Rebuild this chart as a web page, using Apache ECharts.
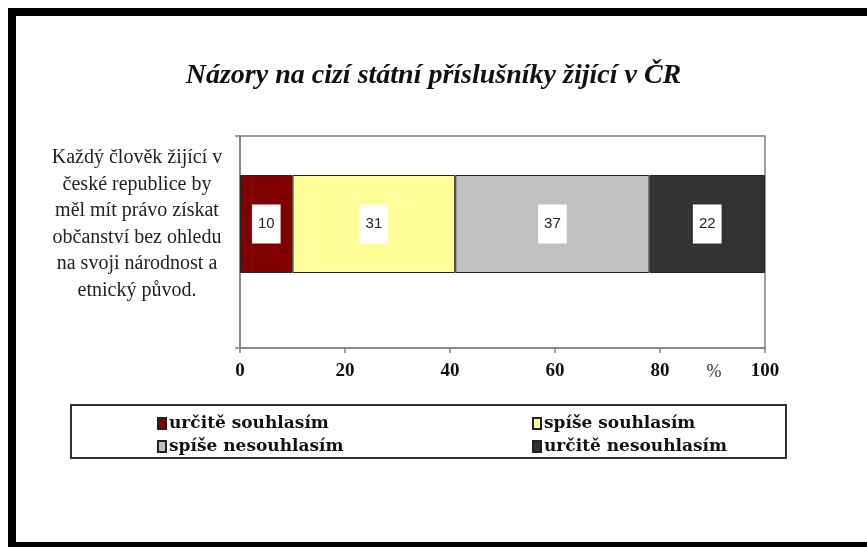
<!DOCTYPE html>
<html><head><meta charset="utf-8">
<script src="https://cdn.jsdelivr.net/npm/echarts@6/dist/echarts.min.js"></script>
<style>html,body{margin:0;padding:0;background:#fff}#c{width:867px;height:547px}</style>
</head><body><div id="c"></div>
<script>
const titleText = 'Názory na cizí státní příslušníky žijící v ČR';
const categories = ['Každý člověk žijící v\nčeské republice by\nměl mít právo získat\nobčanství bez ohledu\nna svoji národnost a\netnický původ.'];
const seriesNames = ['určitě souhlasím', 'spíše souhlasím', 'spíše nesouhlasím', 'určitě nesouhlasím'];
const seriesValues = [[10], [31], [37], [22]];
const seriesColors = ['#800000', '#FFFF99', '#C0C0C0', '#333333'];
const xTicks = [0, 20, 40, 60, 80, 100];

const serif = '"Liberation Serif", "Times New Roman", serif';
const wideSerif = '"DejaVu Serif", serif';
const chart = echarts.init(document.getElementById('c'));
chart.setOption({
  animation: false,
  backgroundColor: '#fff',
  title: {
    text: titleText, left: 'center', top: 57,
    textStyle: {fontFamily: serif, fontStyle: 'italic', fontWeight: 'bold', fontSize: 28, color: '#111'}
  },
  grid: [
    {left: 240, right: 102, top: 136, bottom: 199, show: true, borderColor: '#808080', borderWidth: 1.5},
    {left: 240, right: 102, top: 175, height: 98}
  ],
  xAxis: [
    {gridIndex: 0, type: 'value', min: xTicks[0], max: xTicks[xTicks.length - 1], interval: 20,
     splitLine: {show: false},
     axisLine: {show: true, lineStyle: {color: '#808080', width: 1.5}},
     axisTick: {show: true, length: 5, lineStyle: {color: '#808080', width: 1.5}},
     axisLabel: {fontFamily: serif, fontWeight: 'bold', fontSize: 19, color: '#111', margin: 14},
     name: '%', nameLocation: 'end', nameGap: -51,
     nameTextStyle: {fontFamily: serif, fontSize: 18, color: '#333', verticalAlign: 'top', align: 'center', padding: [15, 0, 0, 0]}
    },
    {gridIndex: 1, type: 'value', min: 0, max: 100, show: false}
  ],
  yAxis: [
    {gridIndex: 0, type: 'category', data: [''],
     axisLine: {show: true, lineStyle: {color: '#808080', width: 1.5}},
     axisTick: {show: true, length: 5, lineStyle: {color: '#808080', width: 1.5}},
     axisLabel: {show: false}},
    {gridIndex: 1, type: 'category', data: categories,
     axisLine: {show: false}, axisTick: {show: false},
     axisLabel: {fontFamily: serif, fontSize: 20, color: '#222', align: 'center', margin: 103, lineHeight: 26.5}}
  ],
  legend: [
    {data: [seriesNames[0], seriesNames[2]], orient: 'vertical', left: 157, top: 415, itemGap: 6, padding: 0,
     itemWidth: 8, itemHeight: 11, icon: 'rect',
     textStyle: {fontFamily: wideSerif, fontWeight: 'bold', fontSize: 17, color: '#111', padding: [0, 0, 0, -2]}},
    {data: [seriesNames[1], seriesNames[3]], orient: 'vertical', left: 532, top: 415, itemGap: 6, padding: 0,
     itemWidth: 8, itemHeight: 11, icon: 'rect',
     textStyle: {fontFamily: wideSerif, fontWeight: 'bold', fontSize: 17, color: '#111', padding: [0, 0, 0, -2]}}
  ],
  graphic: [
    {type: 'rect', shape: {x: 12, y: 12, width: 880, height: 534}, style: {fill: 'none', stroke: '#000', lineWidth: 8}, silent: true},
    {type: 'rect', shape: {x: 71, y: 405, width: 715, height: 53}, style: {fill: 'none', stroke: '#333', lineWidth: 2}, silent: true}
  ],
  series: seriesNames.map((n, i) => ({
    name: n, type: 'bar', stack: 'all', xAxisIndex: 1, yAxisIndex: 1,
    data: seriesValues[i], barWidth: '100%',
    itemStyle: {color: seriesColors[i], borderColor: '#222', borderWidth: 1},
    label: {show: true, position: 'inside', color: '#222', backgroundColor: '#fff',
            padding: [12, 6], fontFamily: '"Liberation Sans", Arial, sans-serif', fontSize: 15}
  }))
});
</script></body></html>
